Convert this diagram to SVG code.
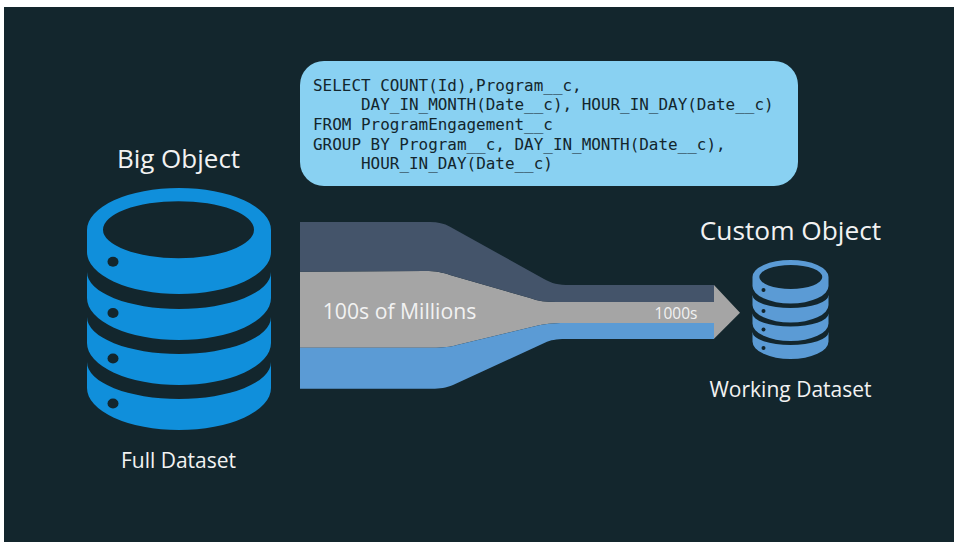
<svg xmlns="http://www.w3.org/2000/svg" width="954" height="542" viewBox="0 0 954 542">
<style>
.lbl{font-family:"Open Sans","Noto Sans",sans-serif;fill:#f2f2f2;text-anchor:middle}
.code{font-family:"DejaVu Sans Mono","Liberation Mono",monospace;font-size:15.950px;fill:#13262d}
.big{fill:#108fdb}
.small{fill:#5b9bd5}
.bg{fill:#13262d}
</style>
<rect width="954" height="542" fill="#ffffff"/>
<rect x="4" y="7" width="950" height="535" class="bg"/>
<g id="big-object">
<text class="lbl" x="178.500" y="167.700" font-size="26">Big Object</text>
<path class="big" fill-rule="evenodd" d="M87,230A92,42 0 0 1 271,230V252A92,42 0 0 1 87,252ZM103,229.700A75.500,28.500 0 0 0 254,229.700A75.500,28.500 0 0 0 103,229.700Z"/>
<path class="big" d="M87,272A92,37 0 0 0 271,272V298A92,42 0 0 1 87,298Z"/>
<path class="big" d="M87,317A92,37 0 0 0 271,317V343A92,42 0 0 1 87,343Z"/>
<path class="big" d="M87,362A92,37 0 0 0 271,362V388A92,42 0 0 1 87,388Z"/>
<ellipse class="bg" cx="113" cy="261.700" rx="5.500" ry="5"/>
<ellipse class="bg" cx="113" cy="313" rx="5.500" ry="5"/>
<ellipse class="bg" cx="113" cy="358.500" rx="5.500" ry="5"/>
<ellipse class="bg" cx="113" cy="403.500" rx="5.500" ry="5"/>
<text class="lbl" x="178.500" y="467.700" font-size="21">Full Dataset</text>
</g>
<g id="query">
<rect x="300" y="61" width="498" height="125" rx="24" ry="24" fill="#89d1f2"/>
<text class="code" x="313" y="90.500">SELECT COUNT(Id),Program__c,</text>
<text class="code" x="361" y="110">DAY_IN_MONTH(Date__c), HOUR_IN_DAY(Date__c)</text>
<text class="code" x="313" y="130">FROM ProgramEngagement__c</text>
<text class="code" x="313" y="149.500">GROUP BY Program__c, DAY_IN_MONTH(Date__c),</text>
<text class="code" x="361" y="169">HOUR_IN_DAY(Date__c)</text>
</g>
<g id="connectors">
<path fill="#a5a5a5" d="M300,271.700L425,271C436,271 443,272.500 450,275L530,298C538,301 546,302 556,302L714,302V285L740,312.700L714,338.700V323H570C556,323 548,323.500 538,325.500L457,345C450,347 445,347.700 432,347.700H300Z"/>
<path fill="#44546a" d="M300,222H430C438,222 444,223.500 450,226.700L544,279C552,283.500 558,285 570,285H714V302H556C546,302 538,301 530,298L450,275C443,272.500 436,271 425,271L300,271.700Z"/>
<path fill="#5b9bd5" d="M300,347.700H432C445,347.700 450,347 457,345L538,325.500C548,323.500 556,323 570,323H714V339H570C558,339 553,339.500 547,341.700L453,385C446,388 440,388.700 432,388.700H300Z"/>
<text class="lbl" x="399.500" y="318.500" font-size="21.200">100s of Millions</text>
<text class="lbl" x="676" y="319" font-size="15.500">1000s</text>
</g>
<g id="custom-object">
<text class="lbl" x="790.500" y="239.500" font-size="26.300">Custom Object</text>
<path class="small" fill-rule="evenodd" d="M752.500,277A38,17 0 0 1 828.500,277V286A38,17.500 0 0 1 752.500,286ZM759.300,277A31.500,12 0 0 0 822.300,277A31.500,12 0 0 0 759.300,277Z"/>
<path class="small" d="M752.500,295A38,13 0 0 0 828.500,295V305A38,17.500 0 0 1 752.500,305Z"/>
<path class="small" d="M752.500,313.500A38,13 0 0 0 828.500,313.500V323.500A38,17.500 0 0 1 752.500,323.500Z"/>
<path class="small" d="M752.500,332A38,13 0 0 0 828.500,332V341.500A38,17.500 0 0 1 752.500,341.500Z"/>
<circle class="bg" cx="763.500" cy="290" r="2"/>
<circle class="bg" cx="763.500" cy="311" r="2"/>
<circle class="bg" cx="763.500" cy="329.500" r="2"/>
<circle class="bg" cx="763.500" cy="348" r="2"/>
<text class="lbl" x="790.500" y="396.500" font-size="21">Working Dataset</text>
</g>
</svg>
